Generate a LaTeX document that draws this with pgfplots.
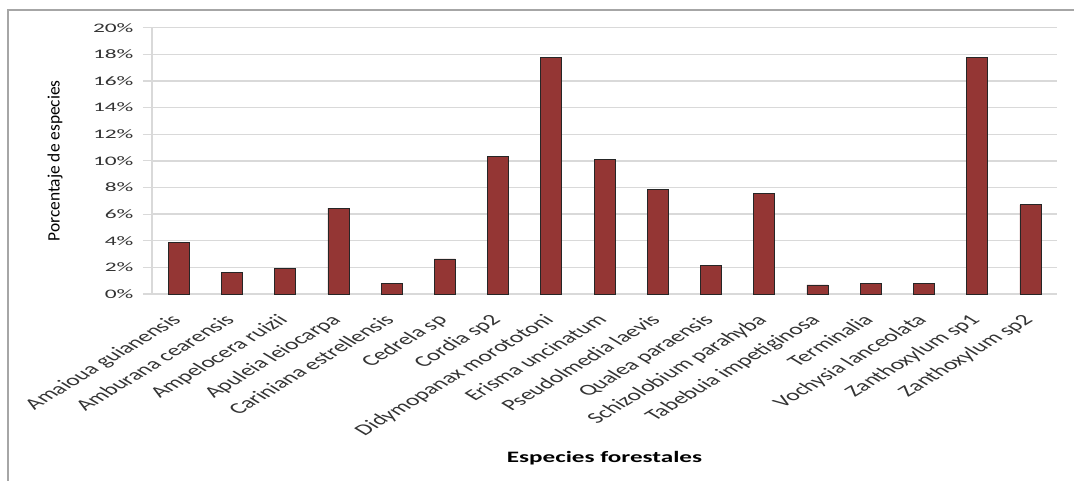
\documentclass[border=0pt]{standalone}
\usepackage{pgfplots}
\pgfplotsset{compat=1.18}
\usepackage{fontspec}
\setmainfont{Carlito}
\newfontfamily\ytickfont[FakeStretch=1.8]{Carlito}
\newfontfamily\xlabfont[FakeStretch=1.58]{Carlito}
\definecolor{barred}{HTML}{943634}
\definecolor{gridgray}{HTML}{D9D9D9}
\definecolor{framegray}{HTML}{A6A6A6}
\definecolor{ticktext}{HTML}{333333}
\begin{document}
\begin{tikzpicture}
\useasboundingbox (-152pt,-186pt) rectangle (922pt,294pt);
\begin{axis}[
  at={(0pt,0pt)}, anchor=south west,
  scale only axis,
  width=905pt, height=266.3pt,
  xmin=-0.5, xmax=16.5,
  ymin=0, ymax=20,
  axis x line*=bottom, axis y line*=left,
  axis line style={gridgray, line width=1.2pt, -},
  ytick={0,2,...,20},
  ymajorgrids,
  grid style={gridgray, line width=1.4pt},
  yticklabel={\pgfmathprintnumber{\tick}\%},
  /pgf/number format/assume math mode=true,
  yticklabel style={font=\ytickfont\fontsize{13}{14}\selectfont, text=ticktext, xshift=-6pt},
  y tick style={gridgray, line width=1.2pt},
  tick align=outside,
  major tick length=9pt,
  xtick=data,
  x tick style={draw=none},
  xticklabels={Amaioua guianensis, Amburana cearensis, Ampelocera ruizii, Apuleia leiocarpa, Cariniana estrellensis, Cedrela sp, Cordia sp2, Didymopanax morototoni, Erisma uncinatum, Pseudolmedia laevis, Qualea paraensis, Schizolobium parahyba, Tabebuia impetiginosa, Terminalia, Vochysia lanceolata, Zanthoxylum sp1, Zanthoxylum sp2},
  xticklabel style={font=\fontsize{15.6}{17}\selectfont, text=ticktext, anchor=north east, inner sep=0pt, xshift=-9pt, yshift=-10pt, xscale=1.65, rotate=45},
  ylabel={Porcentaje de especies},
  ylabel style={at={(axis description cs:-0.1072,0.5)}, anchor=center, font=\fontsize{17.4}{18}\selectfont},
  xlabel={Especies forestales},
  xlabel style={at={(axis description cs:0.5,-0.616)}, anchor=center, font=\xlabfont\bfseries\fontsize{15.9}{17}\selectfont},
  clip=false,
]
\addplot[ybar, bar width=21pt, fill=barred, draw=black!85, line width=0.6pt] coordinates {
(0,3.9) (1,1.6) (2,1.9) (3,6.45) (4,0.78) (5,2.63) (6,10.36) (7,17.77) (8,10.13)
(9,7.86) (10,2.13) (11,7.56) (12,0.68) (13,0.78) (14,0.78) (15,17.77) (16,6.7)
};
\end{axis}
\draw[framegray, line width=1.8pt] (-144pt,-190pt) -- (-144pt,284pt) -- (930pt,284pt);
\end{tikzpicture}
\end{document}
